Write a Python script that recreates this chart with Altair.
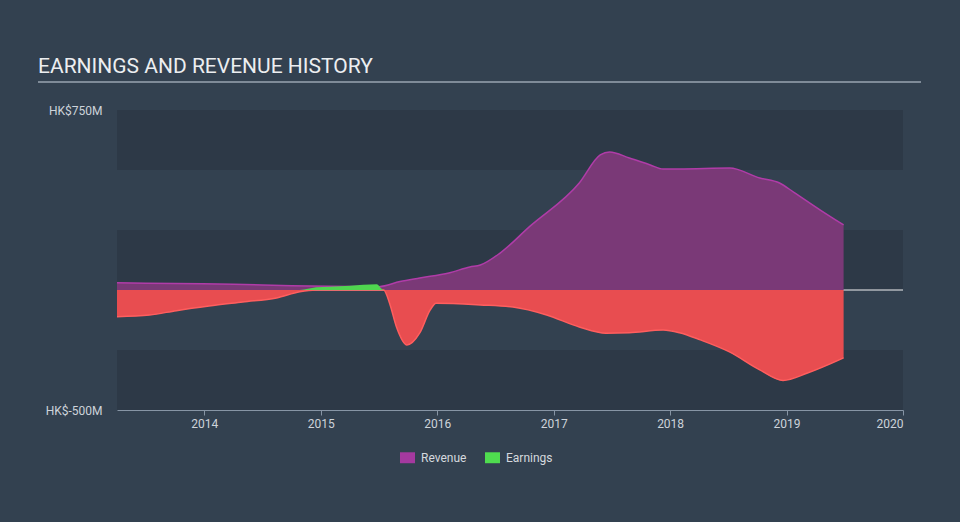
import altair as alt
import pandas as pd

# ---- data ----
rev_years = [2013.25, 2013.75, 2014.25, 2014.75, 2015.25, 2015.5, 2015.68, 2015.85, 2016.1, 2016.28,
             2016.37, 2016.54, 2016.79, 2017.22, 2017.4, 2017.48, 2017.65, 2017.83, 2017.94, 2018.08,
             2018.51, 2018.77, 2018.94, 2019.06, 2019.29, 2019.49]
rev_values = [30, 27, 24, 18, 15, 14, 35, 50, 71, 96,
              104, 154, 263, 446, 563, 575, 550, 521, 504, 504,
              508, 467, 446, 408, 333, 271]

earn_years = [2013.25, 2013.53, 2013.76, 2014.04, 2014.33, 2014.62, 2014.82, 2014.96, 2015.08, 2015.25,
              2015.48, 2015.54, 2015.59, 2015.65, 2015.74, 2015.85, 2015.94, 2015.99, 2016.37, 2016.65,
              2016.94, 2017.22, 2017.45, 2017.65, 2017.94, 2018.08, 2018.26, 2018.51, 2018.77, 2018.97,
              2019.18, 2019.49]
earn_values = [-111, -104, -86, -67, -50, -33, -7, 11, 14, 18,
               24, 0, -54, -154, -229, -179, -83, -55, -62, -71,
               -104, -154, -180, -178, -167, -178, -208, -258, -333, -377,
               -346, -283]

band_lo = [500, 0, -500]
band_hi = [750, 250, -250]

x_domain = [2013.25, 2020]
x_ticks = [2014, 2015, 2016, 2017, 2018, 2019, 2020]
y_domain = [-500, 750]
y_ticks = [-500, 750]

series = ["Revenue", "Earnings"]
series_colors = ["#a5399f", "#4fdc4f"]

rev_df = pd.DataFrame({"year": rev_years, "value": rev_values})
earn_df = pd.DataFrame({"year": earn_years, "value": earn_values})
band_df = pd.DataFrame({"lo": band_lo, "hi": band_hi})
legend_df = pd.DataFrame({"series": series})
one_df = pd.DataFrame({"a": [0]})

FONT = "Roboto"

x_scale = alt.Scale(domain=x_domain, nice=False, zero=False)
y_scale = alt.Scale(domain=y_domain, nice=False, zero=False)

x_axis = alt.Axis(values=x_ticks, format="d", title=None, grid=False,
                  domainColor="#8795a5", tickColor="#8795a5", tickSize=5,
                  labelColor="#cdd3da", labelFont=FONT, labelFontSize=12, labelPadding=3)
y_axis = alt.Axis(values=y_ticks, title=None, grid=False, domain=False, ticks=False,
                  labelExpr="'HK$' + datum.value + 'M'",
                  labelColor="#cdd3da", labelFont=FONT, labelFontSize=12, labelPadding=15)

X = alt.X("year:Q", scale=x_scale, axis=x_axis)

bands = alt.Chart(band_df).mark_rect(color="#2d3947").encode(
    x=alt.datum(x_domain[0], scale=x_scale, axis=x_axis, type="quantitative"),
    x2=alt.datum(x_domain[1]),
    y=alt.Y("lo:Q", scale=y_scale, axis=y_axis),
    y2="hi:Q",
)

zero = alt.Chart(one_df).mark_rule(color="#f2f2f2", strokeWidth=1).encode(
    y=alt.datum(0, type="quantitative")
)

revenue = alt.Chart(rev_df).mark_area(
    interpolate="monotone", color="#7a3977", opacity=1,
    line={"color": "#b03ca8", "strokeWidth": 1.5},
).encode(
    x=X,
    y=alt.Y("value:Q", scale=y_scale, axis=y_axis, stack=None),
)

earn_neg = alt.Chart(earn_df).transform_calculate(
    neg="min(datum.value, 0)"
).mark_area(
    interpolate="monotone", color="#e84d50", opacity=1,
    line={"color": "#ff5e5e", "strokeWidth": 1.5},
).encode(
    x=X,
    y=alt.Y("neg:Q", scale=y_scale, axis=y_axis, stack=None),
)

earn_pos = alt.Chart(earn_df).transform_calculate(
    pos="max(datum.value, 0)"
).mark_area(
    interpolate="monotone", color="#4fd64f", opacity=1,
).encode(
    x=X,
    y=alt.Y("pos:Q", scale=y_scale, axis=y_axis, stack=None),
)

underline = alt.Chart(one_df).mark_rule(color="#9aa5b0", strokeWidth=1.5).encode(
    x=alt.value(-79), x2=alt.value(804), y=alt.value(-28)
)

legend_layer = alt.Chart(legend_df).mark_point(size=0, opacity=0, filled=True).encode(
    color=alt.Color(
        "series:N",
        scale=alt.Scale(domain=series, range=series_colors),
        legend=alt.Legend(
            title=None, orient="none", legendX=283, legendY=340, direction="horizontal",
            symbolType="M-1,-0.73H1V0.73H-1Z", symbolSize=225, symbolOpacity=1,
            symbolStrokeWidth=0, labelColor="#d5d9de", labelFont=FONT, labelFontSize=12,
            columnPadding=18, labelOffset=6, padding=0,
        ),
    )
)

chart = alt.layer(
    bands, zero, revenue, earn_neg, earn_pos, underline, legend_layer
).properties(
    width=786, height=300,
    title=alt.Title("EARNINGS AND REVENUE HISTORY", anchor="start", frame="group",
                    dx=-79, dy=46, offset=33, baseline="alphabetic", font=FONT,
                    fontSize=21, fontWeight="normal", color="#eceef0"),
    background="#334150",
    padding={"left": 117, "top": 110, "right": 57, "bottom": 112},
    autosize=alt.AutoSizeParams(type="none"),
).configure_view(stroke=None)

chart.save("out.html", embed_options={"renderer": "svg", "actions": False})
